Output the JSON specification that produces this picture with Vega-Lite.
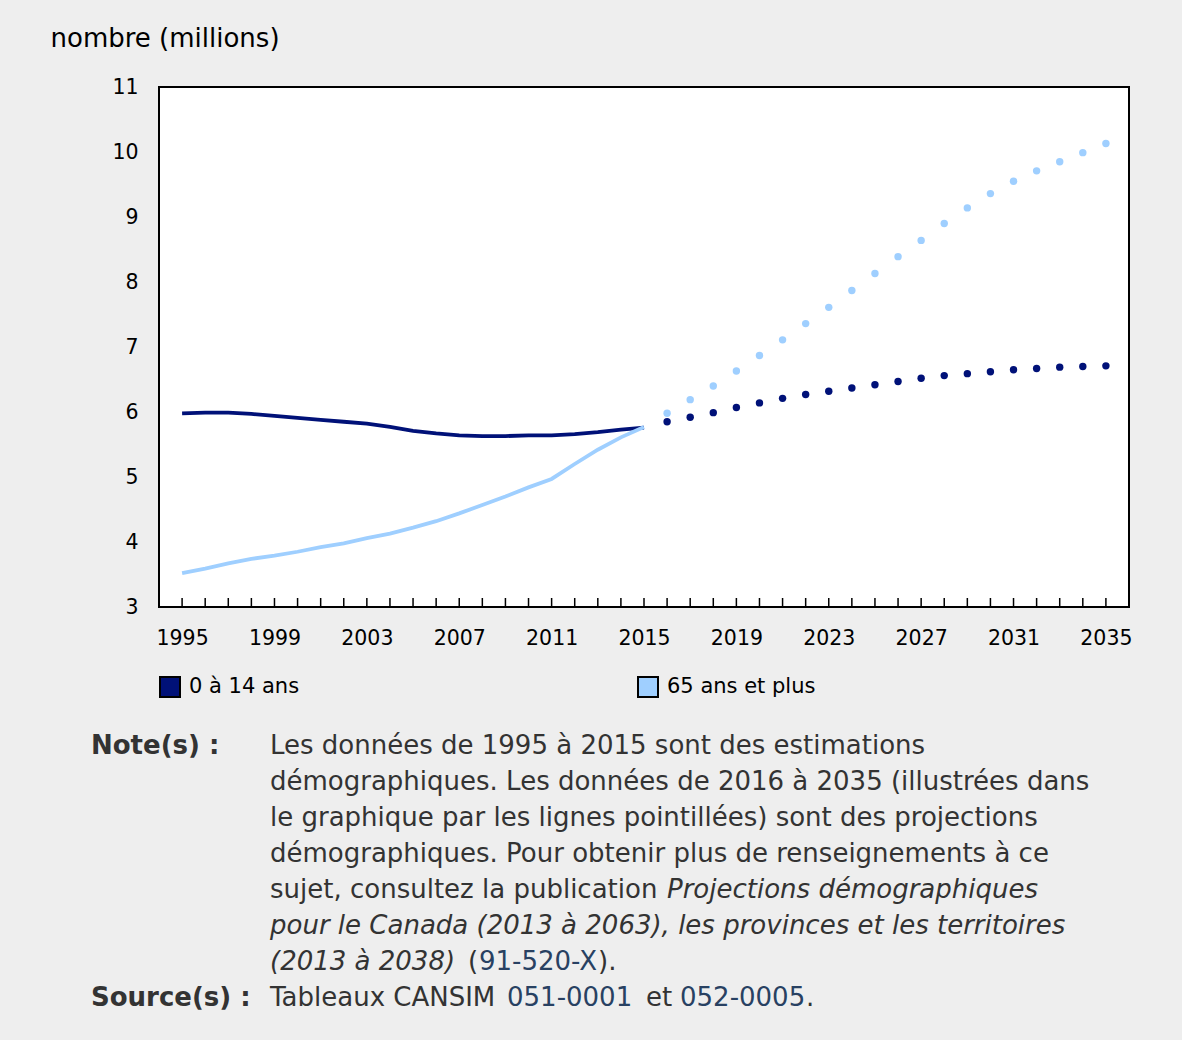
{
  "$schema": "https://vega.github.io/schema/vega-lite/v6.json",
  "background": "#eeeeee",
  "padding": {"left": 49, "top": 24, "right": 52, "bottom": 20},
  "config": {"font": "DejaVu Sans"},
  "bounds": "flush",
  "spacing": 114,
  "vconcat": [
    {
      "width": 970,
      "height": 520,
      "view": {"fill": "white", "stroke": "black", "strokeWidth": 2},
      "data": {
        "values": [
          {"year": 1995, "group": "0 à 14 ans", "value": 5.98, "kind": "estimation"},
          {"year": 1996, "group": "0 à 14 ans", "value": 5.99, "kind": "estimation"},
          {"year": 1997, "group": "0 à 14 ans", "value": 5.99, "kind": "estimation"},
          {"year": 1998, "group": "0 à 14 ans", "value": 5.97, "kind": "estimation"},
          {"year": 1999, "group": "0 à 14 ans", "value": 5.94, "kind": "estimation"},
          {"year": 2000, "group": "0 à 14 ans", "value": 5.91, "kind": "estimation"},
          {"year": 2001, "group": "0 à 14 ans", "value": 5.88, "kind": "estimation"},
          {"year": 2002, "group": "0 à 14 ans", "value": 5.85, "kind": "estimation"},
          {"year": 2003, "group": "0 à 14 ans", "value": 5.82, "kind": "estimation"},
          {"year": 2004, "group": "0 à 14 ans", "value": 5.77, "kind": "estimation"},
          {"year": 2005, "group": "0 à 14 ans", "value": 5.71, "kind": "estimation"},
          {"year": 2006, "group": "0 à 14 ans", "value": 5.67, "kind": "estimation"},
          {"year": 2007, "group": "0 à 14 ans", "value": 5.64, "kind": "estimation"},
          {"year": 2008, "group": "0 à 14 ans", "value": 5.63, "kind": "estimation"},
          {"year": 2009, "group": "0 à 14 ans", "value": 5.63, "kind": "estimation"},
          {"year": 2010, "group": "0 à 14 ans", "value": 5.64, "kind": "estimation"},
          {"year": 2011, "group": "0 à 14 ans", "value": 5.64, "kind": "estimation"},
          {"year": 2012, "group": "0 à 14 ans", "value": 5.66, "kind": "estimation"},
          {"year": 2013, "group": "0 à 14 ans", "value": 5.69, "kind": "estimation"},
          {"year": 2014, "group": "0 à 14 ans", "value": 5.73, "kind": "estimation"},
          {"year": 2015, "group": "0 à 14 ans", "value": 5.76, "kind": "estimation"},
          {"year": 2016, "group": "0 à 14 ans", "value": 5.85, "kind": "projection"},
          {"year": 2017, "group": "0 à 14 ans", "value": 5.92, "kind": "projection"},
          {"year": 2018, "group": "0 à 14 ans", "value": 5.99, "kind": "projection"},
          {"year": 2019, "group": "0 à 14 ans", "value": 6.07, "kind": "projection"},
          {"year": 2020, "group": "0 à 14 ans", "value": 6.14, "kind": "projection"},
          {"year": 2021, "group": "0 à 14 ans", "value": 6.21, "kind": "projection"},
          {"year": 2022, "group": "0 à 14 ans", "value": 6.27, "kind": "projection"},
          {"year": 2023, "group": "0 à 14 ans", "value": 6.32, "kind": "projection"},
          {"year": 2024, "group": "0 à 14 ans", "value": 6.37, "kind": "projection"},
          {"year": 2025, "group": "0 à 14 ans", "value": 6.42, "kind": "projection"},
          {"year": 2026, "group": "0 à 14 ans", "value": 6.47, "kind": "projection"},
          {"year": 2027, "group": "0 à 14 ans", "value": 6.52, "kind": "projection"},
          {"year": 2028, "group": "0 à 14 ans", "value": 6.56, "kind": "projection"},
          {"year": 2029, "group": "0 à 14 ans", "value": 6.59, "kind": "projection"},
          {"year": 2030, "group": "0 à 14 ans", "value": 6.62, "kind": "projection"},
          {"year": 2031, "group": "0 à 14 ans", "value": 6.65, "kind": "projection"},
          {"year": 2032, "group": "0 à 14 ans", "value": 6.67, "kind": "projection"},
          {"year": 2033, "group": "0 à 14 ans", "value": 6.69, "kind": "projection"},
          {"year": 2034, "group": "0 à 14 ans", "value": 6.70, "kind": "projection"},
          {"year": 2035, "group": "0 à 14 ans", "value": 6.71, "kind": "projection"},
          {"year": 1995, "group": "65 ans et plus", "value": 3.52, "kind": "estimation"},
          {"year": 1996, "group": "65 ans et plus", "value": 3.59, "kind": "estimation"},
          {"year": 1997, "group": "65 ans et plus", "value": 3.67, "kind": "estimation"},
          {"year": 1998, "group": "65 ans et plus", "value": 3.74, "kind": "estimation"},
          {"year": 1999, "group": "65 ans et plus", "value": 3.79, "kind": "estimation"},
          {"year": 2000, "group": "65 ans et plus", "value": 3.85, "kind": "estimation"},
          {"year": 2001, "group": "65 ans et plus", "value": 3.92, "kind": "estimation"},
          {"year": 2002, "group": "65 ans et plus", "value": 3.98, "kind": "estimation"},
          {"year": 2003, "group": "65 ans et plus", "value": 4.06, "kind": "estimation"},
          {"year": 2004, "group": "65 ans et plus", "value": 4.13, "kind": "estimation"},
          {"year": 2005, "group": "65 ans et plus", "value": 4.22, "kind": "estimation"},
          {"year": 2006, "group": "65 ans et plus", "value": 4.32, "kind": "estimation"},
          {"year": 2007, "group": "65 ans et plus", "value": 4.44, "kind": "estimation"},
          {"year": 2008, "group": "65 ans et plus", "value": 4.57, "kind": "estimation"},
          {"year": 2009, "group": "65 ans et plus", "value": 4.70, "kind": "estimation"},
          {"year": 2010, "group": "65 ans et plus", "value": 4.84, "kind": "estimation"},
          {"year": 2011, "group": "65 ans et plus", "value": 4.97, "kind": "estimation"},
          {"year": 2012, "group": "65 ans et plus", "value": 5.20, "kind": "estimation"},
          {"year": 2013, "group": "65 ans et plus", "value": 5.42, "kind": "estimation"},
          {"year": 2014, "group": "65 ans et plus", "value": 5.61, "kind": "estimation"},
          {"year": 2015, "group": "65 ans et plus", "value": 5.77, "kind": "estimation"},
          {"year": 2016, "group": "65 ans et plus", "value": 5.98, "kind": "projection"},
          {"year": 2017, "group": "65 ans et plus", "value": 6.19, "kind": "projection"},
          {"year": 2018, "group": "65 ans et plus", "value": 6.40, "kind": "projection"},
          {"year": 2019, "group": "65 ans et plus", "value": 6.63, "kind": "projection"},
          {"year": 2020, "group": "65 ans et plus", "value": 6.87, "kind": "projection"},
          {"year": 2021, "group": "65 ans et plus", "value": 7.11, "kind": "projection"},
          {"year": 2022, "group": "65 ans et plus", "value": 7.36, "kind": "projection"},
          {"year": 2023, "group": "65 ans et plus", "value": 7.61, "kind": "projection"},
          {"year": 2024, "group": "65 ans et plus", "value": 7.87, "kind": "projection"},
          {"year": 2025, "group": "65 ans et plus", "value": 8.13, "kind": "projection"},
          {"year": 2026, "group": "65 ans et plus", "value": 8.39, "kind": "projection"},
          {"year": 2027, "group": "65 ans et plus", "value": 8.64, "kind": "projection"},
          {"year": 2028, "group": "65 ans et plus", "value": 8.90, "kind": "projection"},
          {"year": 2029, "group": "65 ans et plus", "value": 9.14, "kind": "projection"},
          {"year": 2030, "group": "65 ans et plus", "value": 9.36, "kind": "projection"},
          {"year": 2031, "group": "65 ans et plus", "value": 9.55, "kind": "projection"},
          {"year": 2032, "group": "65 ans et plus", "value": 9.71, "kind": "projection"},
          {"year": 2033, "group": "65 ans et plus", "value": 9.85, "kind": "projection"},
          {"year": 2034, "group": "65 ans et plus", "value": 9.99, "kind": "projection"},
          {"year": 2035, "group": "65 ans et plus", "value": 10.13, "kind": "projection"}
        ]
      },
      "encoding": {
        "x": {
          "field": "year",
          "type": "quantitative",
          "scale": {"domain": [1994, 2036], "nice": false, "zero": false},
          "axis": {
            "title": null,
            "values": [1995, 1999, 2003, 2007, 2011, 2015, 2019, 2023, 2027, 2031, 2035],
            "format": "d",
            "domain": false,
            "grid": false,
            "ticks": false,
            "labelFontSize": 20.5,
            "labelColor": "black",
            "labelPadding": 21,
            "labelFlush": false,
            "labelOverlap": false
          }
        },
        "y": {
          "field": "value",
          "type": "quantitative",
          "scale": {"domain": [3, 11], "nice": false, "zero": false},
          "axis": {
            "title": "nombre (millions)",
            "titleAngle": 0,
            "titleAlign": "left",
            "titleBaseline": "middle",
            "titleX": -109,
            "titleY": -49,
            "titleFontSize": 26,
            "titleFontWeight": "normal",
            "titleColor": "black",
            "values": [3, 4, 5, 6, 7, 8, 9, 10, 11],
            "domain": false,
            "grid": false,
            "ticks": false,
            "labelFontSize": 20.5,
            "labelColor": "black",
            "labelPadding": 21
          }
        }
      },
      "layer": [
        {
          "transform": [{"filter": "datum.group === '0 à 14 ans'"}],
          "mark": {"type": "tick", "orient": "vertical", "size": 9, "thickness": 1.5, "color": "black", "opacity": 1, "yOffset": -4.5},
          "encoding": {"y": {"datum": 3}}
        },
        {
          "data": {"values": [{"value": 3}, {"value": 4}, {"value": 5}, {"value": 6}, {"value": 7}, {"value": 8}, {"value": 9}, {"value": 10}, {"value": 11}]},
          "mark": {"type": "tick", "orient": "horizontal", "size": 8, "thickness": 1.5, "color": "black", "opacity": 1, "xOffset": 4},
          "encoding": {"x": {"datum": 1994}}
        },
        {
          "transform": [{"filter": "datum.kind === 'estimation' && datum.group === '0 à 14 ans'"}],
          "mark": {"type": "line", "strokeWidth": 3.8, "color": "#001178"},
          "encoding": {}
        },
        {
          "transform": [{"filter": "datum.kind === 'estimation' && datum.group === '65 ans et plus'"}],
          "mark": {"type": "line", "strokeWidth": 3.8, "color": "#9fcfff"},
          "encoding": {}
        },
        {
          "transform": [{"filter": "datum.kind === 'projection'"}],
          "mark": {"type": "point", "filled": true, "size": 55, "opacity": 1},
          "encoding": {
            "color": {
              "field": "group",
              "type": "nominal",
              "scale": {"domain": ["0 à 14 ans", "65 ans et plus"], "range": ["#001178", "#9fcfff"]},
              "legend": {
                "title": null,
                "orient": "none",
                "legendX": 0,
                "legendY": 589,
                "direction": "horizontal",
                "columns": 2,
                "columnPadding": 334,
                "symbolType": "square",
                "symbolSize": 400,
                "symbolStrokeWidth": 2,
                "symbolStrokeColor": "black",
                "labelFontSize": 21,
                "labelColor": "black",
                "labelOffset": 8,
                "encode": {
                  "symbols": {
                    "update": {
                      "stroke": {"value": "black"},
                      "strokeWidth": {"value": 2}
                    }
                  }
                }
              }
            }
          }
        }
      ]
    },
    {
      "width": 970,
      "height": 300,
      "view": {"stroke": null, "fill": null},
      "data": {
        "values": [
          {"line": 1, "col": "label", "seg": "bold", "t": "Note(s) :"},
          {"line": 1, "col": "text", "seg": "n", "t": "Les données de 1995 à 2015 sont des estimations"},
          {"line": 2, "col": "text", "seg": "n", "t": "démographiques. Les données de 2016 à 2035 (illustrées dans"},
          {"line": 3, "col": "text", "seg": "n", "t": "le graphique par les lignes pointillées) sont des projections"},
          {"line": 4, "col": "text", "seg": "n", "t": "démographiques. Pour obtenir plus de renseignements à ce"},
          {"line": 5, "col": "text", "seg": "n", "t": "sujet, consultez la publication"},
          {"line": 5, "col": "text", "seg": "i2", "t": "Projections démographiques"},
          {"line": 6, "col": "text", "seg": "i", "t": "pour le Canada (2013 à 2063), les provinces et les territoires"},
          {"line": 7, "col": "text", "seg": "i", "t": "(2013 à 2038)"},
          {"line": 7, "col": "text", "seg": "n2", "t": "("},
          {"line": 7, "col": "text", "seg": "k1", "t": "91-520-X"},
          {"line": 7, "col": "text", "seg": "n3", "t": ")."},
          {"line": 8, "col": "label", "seg": "bold", "t": "Source(s) :"},
          {"line": 8, "col": "text", "seg": "n", "t": "Tableaux CANSIM"},
          {"line": 8, "col": "text", "seg": "k2", "t": "051-0001"},
          {"line": 8, "col": "text", "seg": "n4", "t": "et"},
          {"line": 8, "col": "text", "seg": "k3", "t": "052-0005"},
          {"line": 8, "col": "text", "seg": "n5", "t": "."}
        ]
      },
      "encoding": {
        "x": {"field": "col", "type": "nominal", "scale": {"type": "point", "domain": ["label", "text"], "range": [-68, 111], "padding": 0}, "axis": null},
        "y": {"field": "line", "type": "quantitative", "scale": {"domain": [1, 8], "range": [33, 285], "zero": false, "nice": false}, "axis": null},
        "text": {"field": "t", "type": "nominal"}
      },
      "layer": [
        {"transform": [{"filter": "datum.seg === 'bold'"}], "mark": {"type": "text", "align": "left", "baseline": "alphabetic", "fontSize": 26, "fontWeight": "bold", "color": "#333333"}},
        {"transform": [{"filter": "datum.seg === 'n'"}], "mark": {"type": "text", "align": "left", "baseline": "alphabetic", "fontSize": 26, "color": "#333333"}},
        {"transform": [{"filter": "datum.seg === 'i'"}], "mark": {"type": "text", "align": "left", "baseline": "alphabetic", "fontSize": 26, "fontStyle": "italic", "color": "#333333"}},
        {"transform": [{"filter": "datum.seg === 'i2'"}], "mark": {"type": "text", "align": "left", "baseline": "alphabetic", "fontSize": 26, "fontStyle": "italic", "color": "#333333", "dx": 397}},
        {"transform": [{"filter": "datum.seg === 'n2'"}], "mark": {"type": "text", "align": "left", "baseline": "alphabetic", "fontSize": 26, "color": "#333333", "dx": 198}},
        {"transform": [{"filter": "datum.seg === 'k1'"}], "mark": {"type": "text", "align": "left", "baseline": "alphabetic", "fontSize": 26, "color": "#284162", "dx": 209}},
        {"transform": [{"filter": "datum.seg === 'n3'"}], "mark": {"type": "text", "align": "left", "baseline": "alphabetic", "fontSize": 26, "color": "#333333", "dx": 328}},
        {"transform": [{"filter": "datum.seg === 'k2'"}], "mark": {"type": "text", "align": "left", "baseline": "alphabetic", "fontSize": 26, "color": "#284162", "dx": 237}},
        {"transform": [{"filter": "datum.seg === 'n4'"}], "mark": {"type": "text", "align": "left", "baseline": "alphabetic", "fontSize": 26, "color": "#333333", "dx": 376}},
        {"transform": [{"filter": "datum.seg === 'k3'"}], "mark": {"type": "text", "align": "left", "baseline": "alphabetic", "fontSize": 26, "color": "#284162", "dx": 410}},
        {"transform": [{"filter": "datum.seg === 'n5'"}], "mark": {"type": "text", "align": "left", "baseline": "alphabetic", "fontSize": 26, "color": "#333333", "dx": 536}}
      ]
    }
  ]
}
